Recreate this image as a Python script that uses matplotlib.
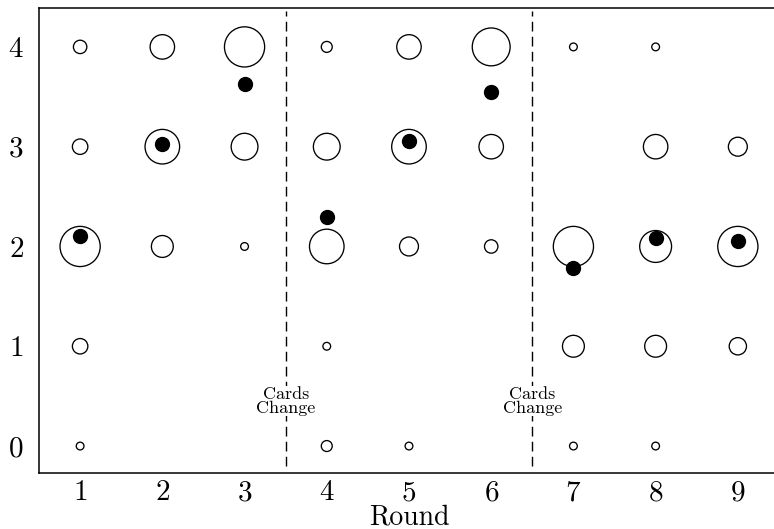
import matplotlib
matplotlib.use("Agg")
import matplotlib.pyplot as plt

plt.rcParams['font.family'] = 'serif'
plt.rcParams['font.serif'] = ['cmr10']
plt.rcParams['mathtext.fontset'] = 'cm'
plt.rcParams['axes.formatter.use_mathtext'] = True

# number of players choosing each level, per round (circle area ~ count)
rondas = [1, 2, 3, 4, 5, 6, 7, 8, 9]
niveles = [0, 1, 2, 3, 4]
cuentas = {
    1: [1, 4, 27, 4, 3],
    2: [0, 0, 8, 20, 10],
    3: [0, 0, 1, 12, 27],
    4: [2, 1, 20, 12, 2],
    5: [1, 0, 6, 20, 10],
    6: [0, 0, 3, 10, 24],
    7: [1, 8, 27, 0, 1],
    8: [1, 8, 17, 10, 1],
    9: [0, 5, 27, 6, 0],
}
# mean level per round (filled dots)
medias = [2.10, 3.03, 3.63, 2.30, 3.06, 3.55, 1.78, 2.08, 2.05]
cambios = [3.5, 6.5]

fig = plt.figure(figsize=(7.74, 5.29), dpi=100)
ax = fig.add_axes([0.0504, 0.1059, 0.956, 0.879])

xs, ys, ss = [], [], []
for r in rondas:
    for nivel, c in zip(niveles, cuentas[r]):
        if c > 0:
            xs.append(r)
            ys.append(nivel)
            ss.append(c * 31)
ax.scatter(xs, ys, s=ss, facecolors='white', edgecolors='black',
           linewidths=0.95, zorder=2)
ax.scatter(rondas, medias, s=100, color='black', zorder=3)

for xc in cambios:
    ax.vlines(xc, -0.2, 4.36, colors='black', linewidth=1.0,
              linestyles=(0, (7, 3.8)), zorder=1)
    ax.text(xc, 0.45, "Cards\nChange", ha='center', va='center',
            fontsize=13, linespacing=0.85, zorder=4,
            bbox=dict(facecolor='white', edgecolor='none', pad=0.5))

ax.set_xlim(0.5, 9.5)
ax.set_ylim(-0.27, 4.39)
ax.set_xticks(rondas)
ax.set_yticks(niveles)
ax.tick_params(length=0, labelsize=21)
ax.tick_params(axis='x', pad=5)
ax.tick_params(axis='y', pad=11)
ax.set_xlabel("Round", fontsize=20, labelpad=-1.5)
for sp in ax.spines.values():
    sp.set_linewidth(1.1)

plt.savefig("out.png", dpi=100)
